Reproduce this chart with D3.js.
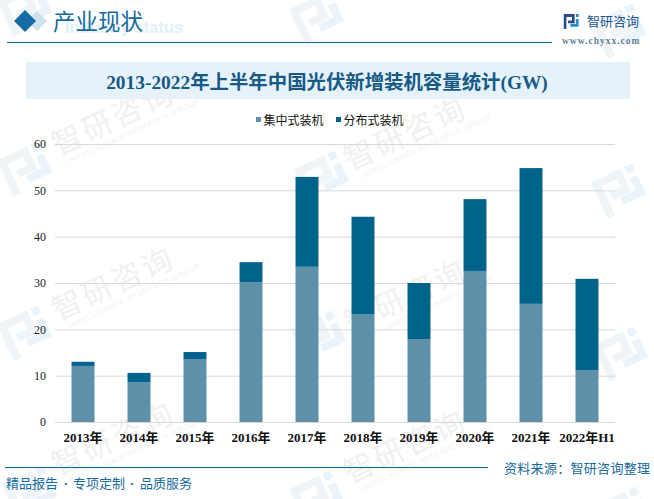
<!DOCTYPE html>
<html>
<head>
<meta charset="utf-8">
<script src="https://cdn.jsdelivr.net/npm/d3@7"></script>
<style>
  html, body { margin: 0; padding: 0; background: #fff; }
  svg { display: block; }
</style>
</head>
<body>
<div id="chart"></div>
<script>
const years = ["2013年", "2014年", "2015年", "2016年", "2017年", "2018年", "2019年", "2020年", "2021年", "2022年H1"];
const centralized = [12.1, 8.6, 13.6, 30.2, 33.5, 23.3, 17.9, 32.6, 25.5, 11.2];
const distributed = [0.9, 2.0, 1.5, 4.3, 19.4, 21.0, 12.1, 15.5, 29.3, 19.7];
const seriesNames = ["集中式装机", "分布式装机"];
const seriesColors = ["#5f90a9", "#00638c"];
const yTicks = [0, 10, 20, 30, 40, 50, 60];

const cjk = '"Noto Sans CJK SC", sans-serif';
const serif = '"Liberation Serif", "Noto Sans CJK SC", serif';
const blue = "#176a9c";

const svg = d3.select("#chart").append("svg").attr("width", 654).attr("height", 499);

// small helper, style() so the font always wins
function label(parent, x, y, str, size, color, family) {
  return parent.append("text").attr("x", x).attr("y", y)
    .style("font-family", family).style("font-size", size + "px").attr("fill", color).text(str);
}

// the company logo, drawn around 0,0 and about 50 wide
function logo(g, c1, c2) {
  g.append("path").attr("d", "M-25,-20H8V5H-12V-3H0V-12H-17V20H-25Z").attr("fill", c1);
  g.append("path").attr("d", "M12,-20H20V-12H12ZM12,-7H20V14H-5V6H12Z").attr("fill", c2);
}

// faint watermark layer
const wm = svg.append("g");
const logoSpots = [[28, 8], [320, 17], [622, 30], [28, 168], [325, 177], [622, 190], [28, 332], [322, 337], [624, 353], [33, 492], [320, 497], [626, 513]];
logoSpots.forEach(p => {
  const g = wm.append("g").attr("transform", `translate(${p[0]},${p[1]}) rotate(-25)`);
  logo(g, "#eef4f8", "#e9f3f9");
});
const wmSpots = [[58, 156], [350, 171], [58, 321], [350, 334], [58, 476], [350, 484]];
wmSpots.forEach(p => {
  const g = wm.append("g").attr("transform", `translate(${p[0]},${p[1]}) rotate(-25)`);
  label(g, 0, 0, "智研咨询", 30, "#f0f0f0", cjk).style("letter-spacing", "3px");
  label(g, 8, 12, "INTELLIGENCE RESEARCH GROUP", 7.5, "#f2f2f2", '"Liberation Sans"').style("letter-spacing", "0.6px");
});

// header
label(svg, 65, 33, "Industry status", 16.5, "#e0eff8", '"Liberation Sans"').style("font-weight", "bold");
svg.append("path").attr("d", "M37,11L47,21L37,31L27,21Z").attr("fill", "#cfe1ec");
svg.append("path").attr("d", "M25,10L36,21L25,32L14,21Z").attr("fill", "#146ca3");
label(svg, 53, 30, "产业现状", 22.5, blue, cjk);
svg.append("line").attr("x1", 7).attr("x2", 552).attr("y1", 42.5).attr("y2", 42.5).attr("stroke", "#126a9a");

// brand mark, top right
const brand = svg.append("g").attr("transform", "translate(572,21.5) scale(0.33,0.37)");
logo(brand, "#2b4a8c", "#2a8ad0");
label(svg, 587, 26, "智研咨询", 13, "#23558f", cjk);
label(svg, 562, 44, "www.chyxx.com", 9.5, "#5f7f97", serif).style("font-weight", "bold").style("letter-spacing", "1px");

// title band
svg.append("rect").attr("x", 26).attr("y", 62).attr("width", 604).attr("height", 37).attr("fill", "#e6f2fa");
label(svg, 327, 89, "2013-2022年上半年中国光伏新增装机容量统计(GW)", 19.4, "#175a85", serif)
  .attr("text-anchor", "middle").style("font-weight", "bold");

// scales
const x = d3.scaleBand().domain(years).range([55, 615]).paddingInner(0.59).paddingOuter(0.295);
const y = d3.scaleLinear().domain([0, 60]).range([422, 144]);

// grid
svg.append("g").selectAll("line").data(yTicks).join("line")
  .attr("x1", 55).attr("x2", 615)
  .attr("y1", d => y(d) + 0.5).attr("y2", d => y(d) + 0.5)
  .attr("stroke", "#d9d9d9");

// axes
const yAxis = svg.append("g").attr("transform", "translate(55,0)")
  .call(d3.axisLeft(y).tickValues(yTicks).tickSize(0).tickPadding(9));
yAxis.select(".domain").remove();
yAxis.selectAll("text").attr("fill", "#222").style("font-size", "12px").style("font-family", serif);

const xAxis = svg.append("g").attr("transform", "translate(0,422)")
  .call(d3.axisBottom(x).tickSize(0).tickPadding(11));
xAxis.select(".domain").remove();
xAxis.selectAll("text").attr("fill", "#111").style("font-size", "13px").style("font-weight", "bold").style("font-family", serif);

// stacked bars
const rows = years.map((year, i) => ({ year, a: centralized[i], b: distributed[i] }));
const stacked = d3.stack().keys(["a", "b"])(rows);
svg.append("g").selectAll("g").data(stacked).join("g")
  .attr("fill", (d, i) => seriesColors[i])
  .selectAll("rect").data(d => d).join("rect")
  .attr("x", d => x(d.data.year))
  .attr("width", x.bandwidth())
  .attr("y", d => y(d[1]))
  .attr("height", d => y(d[0]) - y(d[1]));

// legend
const legendX = d3.scaleOrdinal().domain(seriesNames).range([256, 336]);
const legend = svg.append("g").selectAll("g").data(seriesNames).join("g")
  .attr("transform", d => `translate(${legendX(d)},117)`);
legend.append("rect").attr("width", 5).attr("height", 5).attr("fill", (d, i) => seriesColors[i]);
legend.each(function () {
  label(d3.select(this), 7.5, 7.5, d3.select(this).datum(), 12, "#111", cjk);
});

// footer
svg.append("line").attr("x1", 5).attr("x2", 488).attr("y1", 467.5).attr("y2", 467.5).attr("stroke", "#126a9a");
label(svg, 6, 487.5, "精品报告", 13, blue, cjk);
label(svg, 64, 487.5, "·", 13, blue, '"Liberation Sans"').style("font-weight", "bold");
label(svg, 73, 487.5, "专项定制", 13, blue, cjk);
label(svg, 130, 487.5, "·", 13, blue, '"Liberation Sans"').style("font-weight", "bold");
label(svg, 140, 487.5, "品质服务", 13, blue, cjk);
label(svg, 504, 473, "资料来源：智研咨询整理", 13, blue, cjk).style("letter-spacing", "0.3px");
</script>
</body>
</html>
